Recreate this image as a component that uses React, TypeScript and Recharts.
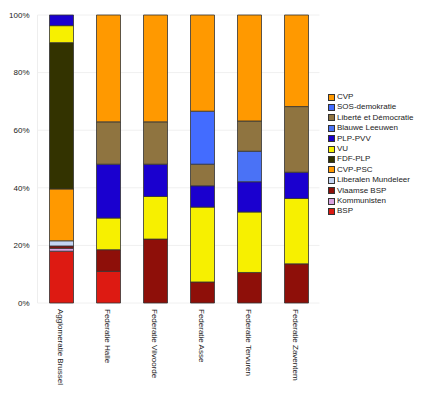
import { BarChart, Bar, XAxis, YAxis, CartesianGrid } from "recharts";

const categories = [
  "Agglomeratie Brussel",
  "Federatie Halle",
  "Federatie Vilvoorde",
  "Federatie Asse",
  "Federatie Tervuren",
  "Federatie Zaventem",
];

// stack order, bottom to top
const parties = [
  "BSP",
  "Kommunisten",
  "Vlaamse BSP",
  "Liberalen Mundeleer",
  "CVP-PSC",
  "FDF-PLP",
  "VU",
  "PLP-PVV",
  "Blauwe Leeuwen",
  "Liberté et Démocratie",
  "SOS-demokratie",
  "CVP",
];

const colors = [
  "#dd1a12",
  "#d8a2e2",
  "#8e0f09",
  "#c4d4f2",
  "#ff9900",
  "#333300",
  "#f7f000",
  "#1a00cf",
  "#4a72f6",
  "#8f7440",
  "#436cff",
  "#ff9900",
];

const bsp = [18.0, 11.0, 0, 0, 0, 0];
const kommunisten = [1.0, 0, 0, 0, 0, 0];
const vlaamseBsp = [0.8, 7.5, 22.2, 7.3, 10.6, 13.6];
const liberalenMundeleer = [1.8, 0, 0, 0, 0, 0];
const cvpPsc = [18.0, 0, 0, 0, 0, 0];
const fdfPlp = [50.8, 0, 0, 0, 0, 0];
const vu = [5.9, 11.0, 14.8, 26.0, 21.0, 22.7];
const plpPvv = [3.7, 18.7, 11.2, 7.4, 10.5, 9.1];
const blauweLeeuwen = [0, 0, 0, 0, 10.6, 0];
const liberteDemocratie = [0, 14.7, 14.7, 7.5, 10.5, 22.8];
const sosDemokratie = [0, 0, 0, 18.4, 0, 0];
const cvp = [0, 37.1, 37.1, 33.4, 36.8, 31.8];

const series = [
  bsp,
  kommunisten,
  vlaamseBsp,
  liberalenMundeleer,
  cvpPsc,
  fdfPlp,
  vu,
  plpPvv,
  blauweLeeuwen,
  liberteDemocratie,
  sosDemokratie,
  cvp,
];

const yTicks = [0, 0.2, 0.4, 0.6, 0.8, 1];

const chartData = categories.map((name, i) => {
  const row: Record<string, string | number> = { name };
  parties.forEach((p, j) => {
    row[p] = series[j][i];
  });
  return row;
});

const FONT = "'Liberation Sans', Arial, sans-serif";

const RotatedTick = (props: any) => {
  const { x, y, payload } = props;
  return (
    <text
      x={0}
      y={0}
      transform={`translate(${x - 3},${y - 2}) rotate(90)`}
      textAnchor="start"
      fontSize={8}
      fontFamily={FONT}
      fill="#222"
    >
      {payload.value}
    </text>
  );
};

const LegendBox = () => (
  <div
    style={{
      position: "absolute",
      left: 328,
      top: 92,
      fontFamily: FONT,
      fontSize: 8,
      color: "#222",
      lineHeight: "10.4px",
    }}
  >
    {parties
      .map((p, i) => ({ p, c: colors[i] }))
      .reverse()
      .map(({ p, c }) => (
        <div key={p} style={{ display: "flex", alignItems: "center", height: 10.4 }}>
          <span
            style={{
              display: "inline-block",
              width: 5,
              height: 5,
              background: c,
              border: "1px solid #333",
              marginRight: 2,
            }}
          />
          <span>{p}</span>
        </div>
      ))}
  </div>
);

export default function App() {
  return (
    <div style={{ position: "absolute", left: 0, top: 0, width: 429, height: 400, background: "#fff" }}>
      <BarChart
        width={429}
        height={400}
        data={chartData}
        stackOffset="expand"
        margin={{ top: 15, right: 109.5, left: 0, bottom: 0 }}
        barSize={24}
      >
        <CartesianGrid vertical={false} stroke="#f0f0f0" />
        <XAxis
          dataKey="name"
          height={97}
          tick={<RotatedTick />}
          tickLine={false}
          axisLine={false}
          interval={0}
        />
        <YAxis
          width={37.5}
          domain={[0, 1]}
          ticks={yTicks}
          tickFormatter={(v) => `${Math.round(v * 100)}%`}
          tick={{ fontSize: 8, fontFamily: FONT, fill: "#222" }}
          tickLine={false}
          axisLine={{ stroke: "#eeeeee" }}
        />
        {parties.map((p, i) => (
          <Bar
            key={p}
            dataKey={p}
            stackId="a"
            fill={colors[i]}
            stroke="#333"
            strokeWidth={0.8}
            isAnimationActive={false}
          />
        ))}
      </BarChart>
      <LegendBox />
    </div>
  );
}
